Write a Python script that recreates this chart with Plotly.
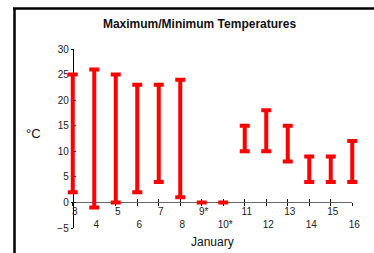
import plotly.graph_objects as go

days = [3, 4, 5, 6, 7, 8, 9, 10, 11, 12, 13, 14, 15, 16]
day_labels = ["3", "4", "5", "6", "7", "8", "9*", "10*", "11", "12", "13", "14", "15", "16"]
t_min = [2, -1, 0, 2, 4, 1, 0, 0, 10, 10, 8, 4, 4, 4]
t_max = [25, 26, 25, 23, 23, 24, 0, 0, 15, 18, 15, 9, 9, 12]

W, H = 374, 253
L, R, T, B = 62, 11, 49, 25
PW, PH = W - L - R, H - T - B          # 301 x 179
PAD = 0.5                               # data-unit padding so the end caps are not clipped
Y_RANGE = [-5, 30]
X_AXIS = [3, 16]
X_RANGE = [X_AXIS[0] - PAD, X_AXIS[1] + PAD]
FONT = "Liberation Sans, Arial, sans-serif"

def px_x(px):
    return (px - L) / PW

def px_y(py):
    return (H - B - py) / PH

unit = PW / (X_RANGE[1] - X_RANGE[0])
d0 = PAD * unit / PW
d1 = 1 - d0

mid = [(a + b) / 2 for a, b in zip(t_min, t_max)]
err_plus = [b - m for b, m in zip(t_max, mid)]
err_minus = [m - a for a, m in zip(t_min, mid)]

# staggered tick labels: every second one drops a line
ticktext = [lab if i % 2 == 0 else "<br>" + lab for i, lab in enumerate(day_labels)]

zero_pos = (0 - Y_RANGE[0]) / (Y_RANGE[1] - Y_RANGE[0])

fig = go.Figure()
# invisible traces that carry the visible tick axes (drawn first, underneath)
for xa, ya in (("x", "y"), ("x2", "y"), ("x", "y2")):
    fig.add_trace(go.Scatter(x=[days[0]], y=[t_min[0]], xaxis=xa, yaxis=ya,
                             mode="markers", marker=dict(opacity=0), showlegend=False,
                             hoverinfo="skip"))
# the data: min/max ranges drawn as error bars on the padded axis x3
fig.add_trace(go.Scatter(
    x=days, y=mid, mode="markers", xaxis="x3", yaxis="y",
    marker=dict(size=1, opacity=0),
    error_y=dict(type="data", symmetric=False, array=err_plus, arrayminus=err_minus,
                 color="#ff0000", thickness=4, width=5),
    hoverinfo="skip", showlegend=False,
))

fig.update_layout(
    width=W, height=H, autosize=False,
    margin=dict(l=L, r=R, t=T, b=B, autoexpand=False),
    paper_bgcolor="white", plot_bgcolor="rgba(0,0,0,0)",
    font=dict(family=FONT, color="#222", size=10),
    xaxis=dict(domain=[d0, d1], range=X_AXIS, tickmode="array", tickvals=days, ticktext=ticktext,
               showgrid=False, zeroline=False, showline=True, linecolor="#666", linewidth=1,
               ticks="outside", ticklen=3, tickcolor="#111", tickwidth=1,
               anchor="free", position=zero_pos, tickfont=dict(size=10, color="#222"),
               ticklabelstandoff=-3, ticklabelshift=2),
    xaxis2=dict(range=X_AXIS, overlaying="x", anchor="free", position=zero_pos,
                tickmode="array", tickvals=days, showticklabels=False,
                showgrid=False, zeroline=False, showline=False,
                ticks="inside", ticklen=3, tickcolor="#111", tickwidth=1),
    xaxis3=dict(domain=[0, 1], range=X_RANGE, anchor="y", visible=False,
                showgrid=False, zeroline=False),
    yaxis=dict(range=Y_RANGE, tickmode="linear", tick0=-5, dtick=5,
               anchor="free", position=d0,
               showgrid=False, zeroline=False, showline=True, linecolor="#000", linewidth=1,
               ticks="outside", ticklen=2, tickcolor="#000", tickwidth=1,
               tickfont=dict(size=10, color="#222")),
    yaxis2=dict(range=Y_RANGE, overlaying="y", anchor="free", position=d0,
                tickmode="linear", tick0=-5, dtick=5, showticklabels=False,
                showgrid=False, zeroline=False, showline=False,
                ticks="inside", ticklen=2, tickcolor="#000", tickwidth=1),
    title=dict(text="<b>Maximum/Minimum Temperatures</b>", xref="container", yref="container",
               x=199.5 / W, y=1 - 24 / H, xanchor="center", yanchor="middle",
               font=dict(family=FONT, size=12, color="#111")),
    annotations=[
        dict(text="°C", xref="paper", yref="paper", x=px_x(33), y=px_y(133),
             showarrow=False, xanchor="center", yanchor="middle",
             font=dict(family=FONT, size=13, color="#111")),
        dict(text="January", xref="paper", yref="paper", x=px_x(212.5), y=px_y(241.5),
             showarrow=False, xanchor="center", yanchor="middle",
             font=dict(family=FONT, size=12, color="#111")),
    ],
    shapes=[
        dict(type="line", xref="paper", yref="paper", x0=px_x(13), x1=px_x(380),
             y0=px_y(8.5), y1=px_y(8.5), line=dict(color="black", width=2.5)),
        dict(type="line", xref="paper", yref="paper", x0=px_x(14.5), x1=px_x(14.5),
             y0=px_y(8), y1=px_y(262), line=dict(color="black", width=2.5)),
    ],
)

fig.write_html("out.html", config={"displayModeBar": False},
               post_script="document.body.style.margin='0';document.body.style.overflow='hidden';")
